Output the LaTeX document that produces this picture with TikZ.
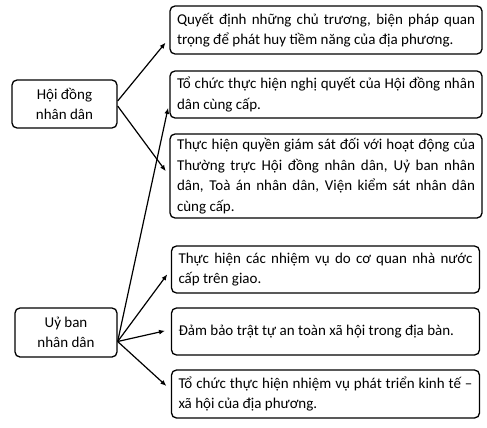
\documentclass[tikz,border=0pt]{standalone}
\usepackage{fontspec}
\setmainfont{Carlito}
\usetikzlibrary{positioning,calc,arrows.meta}

\begin{document}
\begin{tikzpicture}
      [x=1pt,y=-1pt,
      every node/.style={draw=black,rounded corners=5pt,line width=1.3pt,font=\fontsize{15}{20.5}\selectfont},
      leftbox/.style={align=center,inner sep=0pt,minimum height=48pt},
      rightbox/.style={align=justify,inner xsep=7pt,inner ysep=0pt,text width=298pt},
      link/.style={-{Latex[length=6pt,width=5pt]},line width=1.2pt,shorten >=6pt}]
     \useasboundingbox (0,0) rectangle (487,428);
     % left column
     \node[leftbox,minimum width=105pt] (hd) at (64.5,104) {Hội đồng\\nhân dân};
     \node[leftbox,minimum width=102pt,minimum height=49pt] (ub) at (66,332.5) {Uỷ ban\\nhân dân};
     % right column
     \node[rightbox,minimum height=48pt] (b1) at (326,30) {Quyết định những chủ trương, biện pháp quan\linebreak trọng để phát huy tiềm năng của địa phương.};
     \node[rightbox,minimum height=47pt] (b2) at (326,94.5) {Tổ chức thực hiện nghị quyết của Hội đồng nhân\linebreak dân cùng cấp.};
     \node[rightbox,minimum height=84pt] (b3) at (326,176) {Thực hiện quyền giám sát đối với hoạt động của\linebreak Thường trực Hội đồng nhân dân, Uỷ ban nhân\linebreak dân, Toà án nhân dân, Viện kiểm sát nhân dân\linebreak cùng cấp.};
     \node[rightbox,text width=294pt,minimum height=47pt] (b4) at (325.5,269.5) {Thực hiện các nhiệm vụ do cơ quan nhà nước\linebreak cấp trên giao.};
     \node[rightbox,text width=294pt,minimum height=47pt] (b5) at (325.5,331.5) {Đảm bảo trật tự an toàn xã hội trong địa bàn.};
     \node[rightbox,text width=294pt,minimum height=48pt] (b6) at (325.5,394) {Tổ chức thực hiện nhiệm vụ phát triển kinh tế –\linebreak xã hội của địa phương.};
     % arrows
     \draw[link] ([yshift=3pt]hd.east) -- ([yshift=-8pt]b1.west);
     \draw[link] ([yshift=-2pt]hd.east) -- (b3.west);
     \draw[link] ([yshift=-9pt]ub.east) -- ([yshift=-7.5pt]b2.west);
     \draw[link] ([yshift=-9pt]ub.east) -- (b4.west);
     \draw[link] ([yshift=-9pt]ub.east) -- ([yshift=2pt]b5.west);
     \draw[link] ([yshift=-9pt]ub.east) -- ([yshift=4pt]b6.west);
    \end{tikzpicture}
\end{document}
